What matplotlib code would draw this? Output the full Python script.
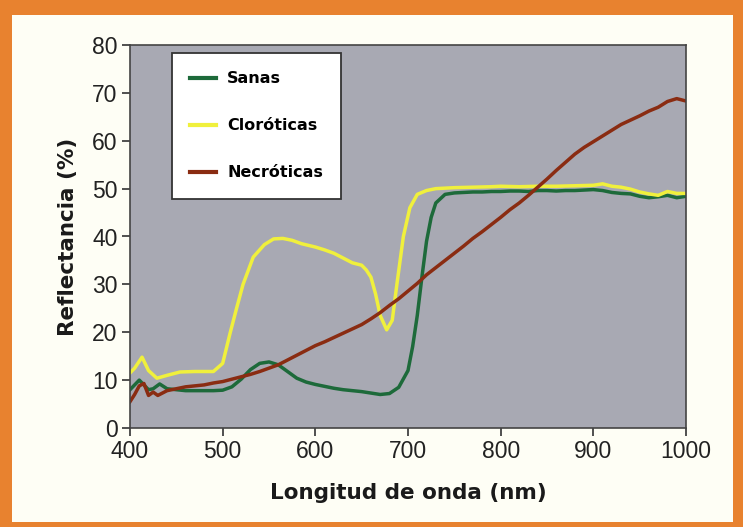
#! /usr/bin/env python

import numpy as np
import matplotlib.pyplot as plt
from matplotlib.patches import Rectangle

# wavelengths (nm) and reflectance (%)
nm_sanas = [400, 410, 420, 425, 432, 440, 450, 460, 470, 480, 490, 500, 510, 520, 530,
            540, 550, 560, 570, 580, 590, 600, 610, 620, 630, 640, 650, 660, 670, 680,
            690, 700, 705, 710, 715, 720, 725, 730, 740, 750, 760, 770, 780, 790, 800,
            810, 820, 830, 840, 850, 860, 870, 880, 890, 900, 910, 920, 930, 940, 950,
            960, 970, 980, 990, 1000]
sanas = [8.0, 10.0, 8.0, 8.2, 9.2, 8.2, 8.0, 7.8, 7.8, 7.8, 7.8, 7.9, 8.6, 10.2, 12.2,
         13.5, 13.8, 13.2, 11.8, 10.4, 9.6, 9.1, 8.7, 8.3, 8.0, 7.8, 7.6, 7.3, 7.0, 7.2,
         8.5, 12.0, 17.0, 23.5, 31.5, 39.0, 44.0, 47.0, 48.8, 49.1, 49.2, 49.3, 49.3, 49.4, 49.4,
         49.5, 49.5, 49.4, 49.6, 49.6, 49.5, 49.6, 49.6, 49.7, 49.8, 49.6, 49.2, 49.0, 48.9, 48.4,
         48.1, 48.3, 48.6, 48.1, 48.4]

nm_cloro = [400, 405, 413, 420, 429, 440, 454, 470, 490, 500, 508, 515, 522, 533, 545,
            555, 565, 575, 585, 600, 610, 620, 630, 640, 650, 655, 660, 665, 670, 677,
            683, 688, 695, 702, 710, 720, 730, 750, 770, 790, 800, 820, 840, 860, 880,
            900, 910, 920, 930, 940, 950, 960, 970, 980, 990, 1000]
cloro = [11.5, 12.5, 14.8, 12.0, 10.4, 11.0, 11.7, 11.8, 11.8, 13.5, 19.8, 25.0, 30.0, 35.7, 38.3,
         39.5, 39.6, 39.2, 38.5, 37.8, 37.2, 36.5, 35.5, 34.5, 34.0, 33.0, 31.5, 28.0, 23.5, 20.5,
         22.5, 30.0, 40.0, 46.0, 48.8, 49.6, 50.0, 50.2, 50.3, 50.4, 50.5, 50.4, 50.5, 50.5, 50.6,
         50.7, 51.0, 50.5, 50.3, 49.9, 49.3, 48.9, 48.6, 49.4, 49.0, 49.0]

nm_necro = [400, 405, 410, 415, 420, 425, 430, 440, 450, 460, 470, 480, 490, 500, 510,
            520, 530, 540, 550, 560, 570, 580, 590, 600, 610, 620, 630, 640, 650, 660,
            670, 680, 690, 700, 710, 720, 730, 740, 750, 760, 770, 780, 790, 800, 810,
            820, 830, 840, 850, 860, 870, 880, 890, 900, 910, 920, 930, 940, 950, 960,
            970, 980, 990, 1000]
necro = [5.5, 7.0, 8.8, 9.3, 6.8, 7.5, 6.8, 7.8, 8.2, 8.6, 8.8, 9.0, 9.4, 9.7, 10.2,
         10.7, 11.2, 11.8, 12.5, 13.2, 14.2, 15.2, 16.2, 17.2, 18.0, 18.9, 19.8, 20.7, 21.6, 22.8,
         24.1, 25.6, 27.0, 28.6, 30.2, 32.0, 33.5, 35.0, 36.5, 38.0, 39.6, 41.0, 42.5, 44.0, 45.6,
         47.0, 48.6, 50.3, 52.0, 53.8, 55.5, 57.2, 58.6, 59.8, 61.0, 62.2, 63.4, 64.3, 65.2, 66.2,
         67.0, 68.2, 68.8, 68.3]

labels = ['Sanas', 'Cloróticas', 'Necróticas']
colors = ['#1d6a3a', '#f0f03c', '#8a2c12']
xticks = [400, 500, 600, 700, 800, 900, 1000]
yticks = [0, 10, 20, 30, 40, 50, 60, 70, 80]

W, H = 743, 527
fig = plt.figure(figsize=(W / 100, H / 100), dpi=100)
fig.patch.set_facecolor('#fefef5')

# orange frame round the picture
orange = '#e8822f'
for x0, y0, w, h in [(0, 0, 12, H), (733, 0, 10, H), (0, H - 15, W, 15), (0, 0, W, 5)]:
    fig.add_artist(Rectangle((x0 / W, y0 / H), w / W, h / H, transform=fig.transFigure,
                             facecolor=orange, edgecolor='none', zorder=0))

ax = fig.add_axes([130 / W, 1 - 428 / H, 556 / W, 383 / H])
ax.set_facecolor('#a8a9b3')

ax.plot(nm_sanas, sanas, color=colors[0], lw=2.5, label=labels[0])
ax.plot(nm_cloro, cloro, color=colors[1], lw=2.5, label=labels[1])
ax.plot(nm_necro, necro, color=colors[2], lw=2.5, label=labels[2])

ax.set_xlim(400, 1000)
ax.set_ylim(0, 80)
ax.set_xticks(xticks)
ax.set_yticks(yticks)
tickfont = {'family': 'Liberation Sans', 'size': 16.5}
ax.set_xticklabels([str(t) for t in xticks], fontdict=tickfont, color='#222222')
ax.set_yticklabels([str(t) for t in yticks], fontdict=tickfont, color='#222222')
ax.tick_params(direction='out', length=6, width=1.2, color='#333333', pad=3)

for s in ax.spines.values():
    s.set_color('#444444')
    s.set_linewidth(1.2)

ax.set_xlabel('Longitud de onda (nm)', fontsize=15.5, fontweight='bold',
              family='DejaVu Sans', color='#1a1a1a', labelpad=14)
ax.set_ylabel('Reflectancia (%)', fontsize=15.5, fontweight='bold',
              family='DejaVu Sans', color='#1a1a1a', labelpad=10)

leg = ax.legend(loc='upper left', bbox_to_anchor=(172 / W, 1 - 53 / H),
                bbox_transform=fig.transFigure, borderaxespad=0, fancybox=False,
                prop={'family': 'DejaVu Sans', 'weight': 'bold', 'size': 11.5},
                handlelength=1.6, handletextpad=0.7, labelspacing=2.0, borderpad=1.15)
leg.get_frame().set_edgecolor('#333333')
leg.get_frame().set_linewidth(1.3)
leg.get_frame().set_facecolor('white')
leg.get_frame().set_alpha(1)
for line in leg.get_lines():
    line.set_linewidth(3)

plt.savefig('out.png', dpi=100, facecolor=fig.get_facecolor())
